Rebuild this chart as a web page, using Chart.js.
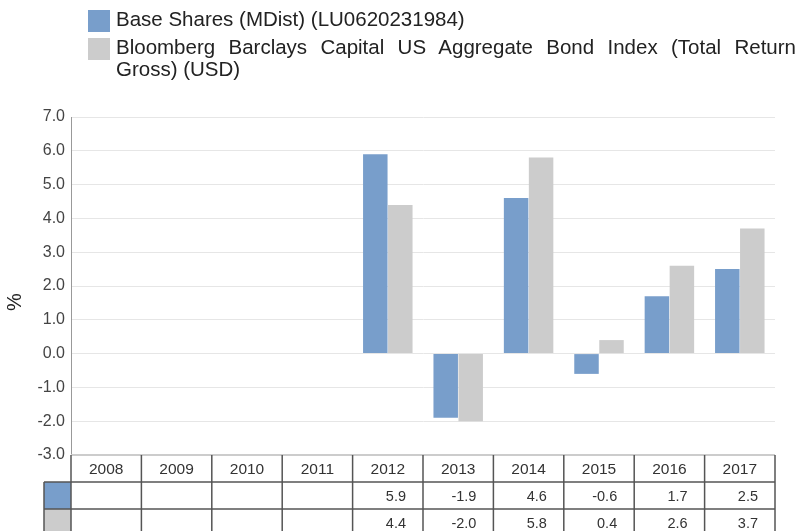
<!DOCTYPE html>
<html>
<head>
<meta charset="utf-8">
<script src="https://cdn.jsdelivr.net/npm/chart.js@4.4.0/dist/chart.umd.min.js"></script>
<style>
  body { margin: 0; background: #fff; font-family: "Liberation Sans", Arial, sans-serif; }
  #wrap { position: relative; width: 798px; height: 531px; overflow: hidden; }
  #legend { position: absolute; left: 88px; top: 8px; width: 708px; color: #222; font-size: 20.5px; line-height: 22px; }
  .item { display: flex; align-items: flex-start; margin-bottom: 4px; }
  .sw { width: 22px; height: 22px; flex: none; margin-right: 6px; margin-top: 2px; }
  .txt { text-align: justify; }
  canvas { position: absolute; left: 0; top: 0; }
</style>
</head>
<body>
<div id="wrap">
  <canvas id="c" width="798" height="531"></canvas>
  <div id="legend"></div>
</div>
<script>
const years = ['2008', '2009', '2010', '2011', '2012', '2013', '2014', '2015', '2016', '2017'];
const fundName = 'Base Shares (MDist) (LU0620231984)';
const indexName = 'Bloomberg Barclays Capital US Aggregate Bond Index (Total Return Gross) (USD)';
const fundValues = [null, null, null, null, 5.9, -1.9, 4.6, -0.6, 1.7, 2.5];
const indexValues = [null, null, null, null, 4.4, -2.0, 5.8, 0.4, 2.6, 3.7];
const blue = '#789ecb';
const grey = '#cccccc';

// legend in html so the long name can wrap
const legend = document.getElementById('legend');
[[fundName, blue], [indexName, grey]].forEach(([name, col]) => {
  const it = document.createElement('div');
  it.className = 'item';
  it.innerHTML = '<div class="sw" style="background:' + col + '"></div><div class="txt">' + name + '</div>';
  legend.appendChild(it);
});

// data table under the plot, plus the % title
const tablePlugin = {
  id: 'dataTable',
  afterDraw(chart) {
    const ctx = chart.ctx;
    const area = chart.chartArea;
    const n = years.length;
    const colW = (area.right - area.left) / n;
    const rowH = 27;
    const top = area.bottom;
    const swL = 44;
    ctx.save();
    // y title
    ctx.save();
    ctx.translate(15, 302);
    ctx.rotate(-Math.PI / 2);
    ctx.fillStyle = '#222';
    ctx.font = '20px "Liberation Sans", Arial, sans-serif';
    ctx.textAlign = 'center';
    ctx.textBaseline = 'middle';
    ctx.fillText('%', 0, 0);
    ctx.restore();
    // swatches
    ctx.fillStyle = blue;
    ctx.fillRect(swL, top + rowH, area.left - swL, rowH);
    ctx.fillStyle = grey;
    ctx.fillRect(swL, top + rowH * 2, area.left - swL, rowH);
    // top line light
    ctx.strokeStyle = '#cccccc';
    ctx.lineWidth = 2;
    ctx.beginPath();
    ctx.moveTo(area.left, top);
    ctx.lineTo(area.right, top);
    ctx.stroke();
    ctx.strokeStyle = '#555';
    ctx.lineWidth = 1.5;
    ctx.beginPath();
    for (let r = 1; r <= 3; r++) {
      ctx.moveTo(swL, top + rowH * r);
      ctx.lineTo(area.right, top + rowH * r);
    }
    for (let i = 0; i <= n; i++) {
      const x = area.left + colW * i;
      ctx.moveTo(x, top);
      ctx.lineTo(x, top + rowH * 3 + 5);
    }
    ctx.moveTo(swL, top + rowH);
    ctx.lineTo(swL, top + rowH * 3 + 5);
    ctx.stroke();
    // text
    ctx.fillStyle = '#333';
    ctx.font = '15.5px "Liberation Sans", Arial, sans-serif';
    ctx.textBaseline = 'middle';
    ctx.textAlign = 'center';
    years.forEach((y, i) => {
      ctx.fillText(y, chart.scales.x.getPixelForValue(i), top + rowH / 2 + 1);
    });
    ctx.font = '14.5px "Liberation Sans", Arial, sans-serif';
    ctx.textAlign = 'right';
    [fundValues, indexValues].forEach((vals, r) => {
      vals.forEach((v, i) => {
        if (v === null) return;
        const x = area.left + colW * (i + 1) - 17;
        ctx.fillText(v.toFixed(1), x, top + rowH * (r + 1) + rowH / 2 + 1);
      });
    });
    ctx.restore();
  }
};

new Chart(document.getElementById('c'), {
  type: 'bar',
  data: {
    labels: years,
    datasets: [
      { label: fundName, data: fundValues, backgroundColor: blue },
      { label: indexName, data: indexValues, backgroundColor: grey }
    ]
  },
  options: {
    responsive: false,
    animation: false,
    layout: { padding: { top: 117, bottom: 76, right: 23, left: 0 } },
    datasets: { bar: { categoryPercentage: 0.71, barPercentage: 0.98 } },
    plugins: { legend: { display: false }, tooltip: { enabled: false } },
    scales: {
      x: { display: false },
      y: {
        min: -3, max: 7,
        afterFit(scale) { scale.width = 71; },
        border: { color: '#999', width: 1 },
        grid: { color: '#e6e6e6', drawTicks: false, lineWidth: 1 },
        ticks: {
          stepSize: 1, padding: 6, color: '#444',
          font: { size: 16, family: '"Liberation Sans", Arial, sans-serif' },
          callback: v => v.toFixed(1)
        }
      }
    }
  },
  plugins: [tablePlugin]
});
</script>
</body>
</html>
